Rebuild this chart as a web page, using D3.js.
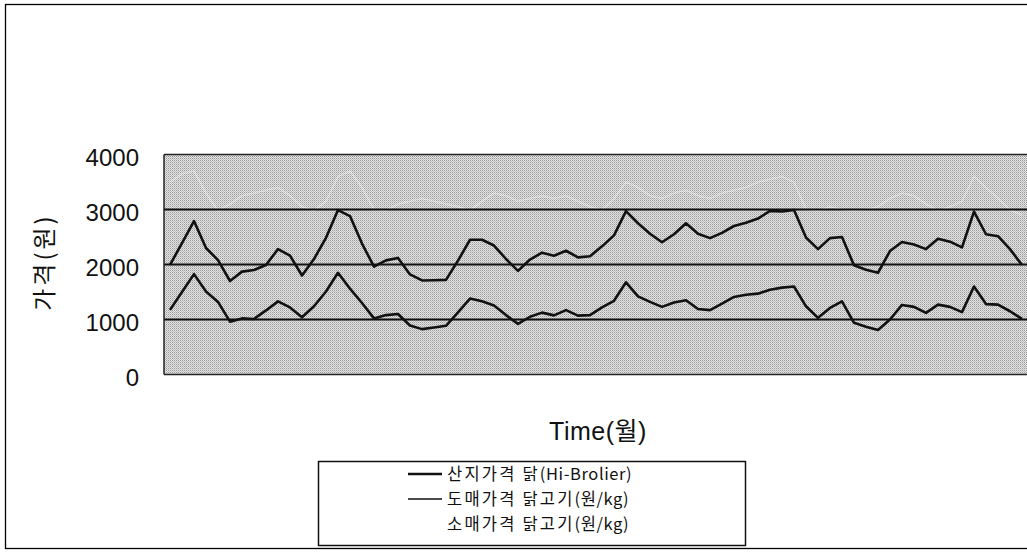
<!DOCTYPE html>
<html><head><meta charset="utf-8">
<script src="https://cdn.jsdelivr.net/npm/d3@7"></script>
<style>html,body{margin:0;padding:0;background:#fff;}svg{display:block;}</style>
</head><body>
<svg id="c" width="1027" height="554"></svg>
<script>
const yTicks = [0, 1000, 2000, 3000, 4000];
const seriesNames = ["산지가격 닭(Hi-Brolier)", "도매가격 닭고기(원/kg)", "소매가격 닭고기(원/kg)"];
const farm = [1175,1500,1825,1510,1320,960,1020,1010,1165,1330,1220,1040,1240,1510,1850,1560,1300,1020,1080,1100,890,825,855,885,1130,1380,1330,1255,1080,920,1050,1125,1075,1170,1070,1080,1220,1340,1676,1420,1320,1230,1310,1350,1190,1170,1290,1410,1450,1470,1540,1580,1600,1240,1030,1210,1330,940,870,810,1000,1265,1230,1120,1270,1230,1135,1600,1280,1270,1150,1010];
const wholesale = [1991,2390,2790,2300,2080,1700,1870,1900,1990,2280,2160,1800,2100,2485,2990,2880,2380,1960,2075,2120,1820,1710,1715,1720,2070,2450,2450,2345,2100,1885,2090,2215,2160,2250,2130,2150,2330,2530,2970,2750,2560,2405,2550,2750,2560,2480,2575,2700,2760,2835,2975,2965,2990,2490,2280,2480,2500,1985,1905,1850,2245,2410,2365,2280,2470,2415,2310,2960,2550,2515,2280,1990];
const retail = [3500,3650,3700,3300,2980,3100,3250,3300,3350,3400,3250,3050,2980,3150,3600,3700,3400,3000,2980,3100,3150,3200,3150,3100,3050,2990,3150,3300,3250,3150,3200,3250,3200,3250,3150,3050,2990,3200,3500,3400,3250,3200,3300,3350,3250,3200,3300,3350,3400,3500,3550,3600,3500,3000,2980,3050,3000,2980,3000,3050,3200,3300,3250,3100,2980,3050,3150,3600,3400,3200,2990,2900];
const months = d3.range(1, farm.length + 1);

const svg = d3.select("#c");
const FONT = "'Liberation Sans', Arial, 'Noto Sans CJK KR', sans-serif";
const KFONT = "'Noto Sans CJK KR', 'Liberation Sans', sans-serif";

// outer frame
svg.append("rect").attr("x", 5.5).attr("y", 4.5).attr("width", 1040).attr("height", 544)
  .attr("fill", "none").attr("stroke", "#000").attr("stroke-width", 1.3);

const plotL = 164, plotR = 1028, plotT = 154.5, plotB = 374.5;
const x = d3.scaleBand().domain(months).range([plotL, plotR]);
const y = d3.scaleLinear().domain([0, 4000]).range([plotB, plotT]);
const cx = i => x(months[i]) + x.bandwidth() / 2;

// halftone background
const defs = svg.append("defs");
const pat = defs.append("pattern").attr("id", "ht").attr("width", 2).attr("height", 2)
  .attr("patternUnits", "userSpaceOnUse");
pat.append("rect").attr("width", 2).attr("height", 2).attr("fill", "#e2e2e2");
pat.append("rect").attr("width", 1).attr("height", 1).attr("fill", "#9a9a9a");
pat.append("rect").attr("x", 1).attr("y", 1).attr("width", 1).attr("height", 1).attr("fill", "#c0c0c0");
svg.append("rect").attr("x", plotL).attr("y", plotT).attr("width", plotR - plotL).attr("height", plotB - plotT)
  .attr("fill", "url(#ht)");

// retail line (white, faint) drawn beneath gridlines
const line = d3.line().x((d, i) => cx(i)).y(d => y(d));
svg.append("path").datum(retail).attr("d", line).attr("fill", "none")
  .attr("stroke", "#ffffff").attr("stroke-width", 1.6).attr("stroke-opacity", 0.35);

// gridlines
svg.append("g").selectAll("line").data([1000, 2000, 3000]).join("line")
  .attr("x1", plotL).attr("x2", plotR).attr("y1", d => y(d)).attr("y2", d => y(d))
  .attr("stroke", "#111").attr("stroke-width", 2);
// plot borders
svg.append("line").attr("x1", plotL).attr("x2", plotR).attr("y1", plotT).attr("y2", plotT).attr("stroke", "#222").attr("stroke-width", 1.5);
svg.append("line").attr("x1", plotL).attr("x2", plotR).attr("y1", plotB).attr("y2", plotB).attr("stroke", "#222").attr("stroke-width", 1.5);
svg.append("line").attr("x1", plotL).attr("x2", plotL).attr("y1", plotT).attr("y2", plotB).attr("stroke", "#222").attr("stroke-width", 1.5);

// data lines
[wholesale, farm].forEach(s => {
  svg.append("path").datum(s).attr("d", line).attr("fill", "none")
    .attr("stroke", "#111").attr("stroke-width", 2.6).attr("stroke-linejoin", "round");
});

// y axis labels
const yAxis = d3.axisLeft(y).tickValues(yTicks).tickSize(0).tickPadding(0).tickFormat(d3.format("d"));
const ga = svg.append("g").attr("transform", "translate(139,3)").call(yAxis);
ga.select(".domain").remove();
ga.selectAll("text").attr("font-family", FONT).attr("font-size", 24).attr("fill", "#111");

// y title
svg.append("text").attr("transform", "translate(53,262) rotate(-90)")
  .attr("text-anchor", "middle").attr("font-family", KFONT).attr("font-size", 24)
  .attr("letter-spacing", 3).attr("fill", "#111").text("가격(원)");

// x title
svg.append("text").attr("x", 598).attr("y", 440).attr("text-anchor", "middle")
  .attr("font-family", FONT).attr("font-size", 25).attr("letter-spacing", 0.5).attr("fill", "#111")
  .text("Time(월)");

// legend
svg.append("rect").attr("x", 318.5).attr("y", 461.5).attr("width", 427).attr("height", 84)
  .attr("fill", "#fff").attr("stroke", "#111").attr("stroke-width", 1.5);
const ly = [474, 499, 524];
const lw = [2.4, 1.4, 0];
seriesNames.forEach((n, i) => {
  if (lw[i] > 0) svg.append("line").attr("x1", 408).attr("x2", 442).attr("y1", ly[i]).attr("y2", ly[i])
    .attr("stroke", "#111").attr("stroke-width", lw[i]);
  const k = n.indexOf("(");
  const t = svg.append("text").attr("x", 447).attr("y", ly[i] + 6).attr("font-family", KFONT)
    .attr("font-size", 16.5).attr("fill", "#111");
  t.append("tspan").attr("letter-spacing", 2.2).text(n.slice(0, k));
  t.append("tspan").attr("letter-spacing", 0.6).text(n.slice(k));
});
</script>
</body></html>
